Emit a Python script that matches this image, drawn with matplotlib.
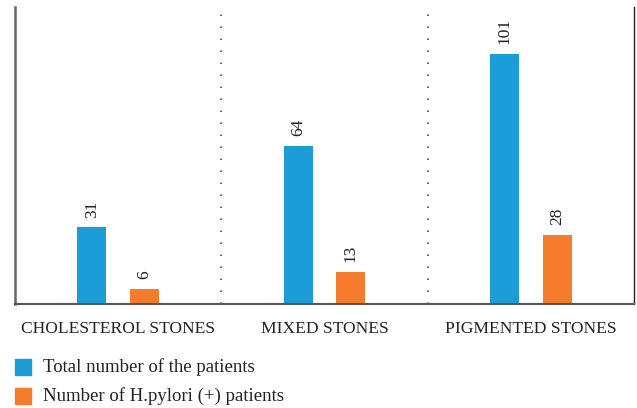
import matplotlib.pyplot as plt
from matplotlib.patches import Rectangle
import numpy as np

categories = ['CHOLESTEROL STONES', 'MIXED STONES', 'PIGMENTED STONES']
total_patients = [31, 64, 101]
hp_patients = [6, 13, 28]
series_names = ['Total number of the patients', 'Number of H.pylori (+) patients']

blue = '#1c9dd8'
orange = '#f47c2c'

plt.rcParams['font.family'] = ['Liberation Serif', 'DejaVu Serif']

W, H = 637, 408
fig = plt.figure(figsize=(W/100, H/100), dpi=100)
ax = fig.add_axes([15/W, 104/H, 619/W, 297/H])

x = np.arange(len(categories))
w = 0.14
off = 0.128
b1 = ax.bar(x - off, total_patients, w, color=blue)
b2 = ax.bar(x + off, hp_patients, w, color=orange)

for bars in (b1, b2):
    for rect in bars:
        ax.annotate(str(int(rect.get_height())),
                    (rect.get_x() + rect.get_width()/2, rect.get_height()),
                    xytext=(0, 7), textcoords='offset points',
                    ha='center', va='bottom', rotation=90,
                    fontsize=12.5, color='#222222')

for sep in [0.5, 1.5]:
    ax.axvline(sep, color='#555555', lw=1.2, ls=(0, (1, 6.2)))

ax.set_xlim(-0.5, 2.5)
ax.set_ylim(0, 120)
ax.set_xticks(x)
ax.set_xticklabels(categories, fontsize=12.6, color='#222222')
ax.tick_params(axis='x', length=0, pad=12)
ax.set_yticks([])
ax.spines['top'].set_visible(False)
ax.spines['left'].set_color('#666666')
ax.spines['left'].set_linewidth(1.8)
ax.spines['bottom'].set_color('#555555')
ax.spines['bottom'].set_linewidth(1.5)
ax.spines['right'].set_color('#222222')
ax.spines['right'].set_linewidth(1)

# legend drawn by hand: squares + labels below the axes
for i, (name, col) in enumerate(zip(series_names, [blue, orange])):
    yc = 367 + i * 29
    fig.patches.append(Rectangle((15/W, 1 - (yc + 8)/H), 16/W, 16/H,
                                 transform=fig.transFigure, color=col))
    fig.text(43/W, 1 - yc/H, name, fontsize=13.5, va='center', ha='left',
             color='#222222')

fig.savefig('out.png', dpi=100)
